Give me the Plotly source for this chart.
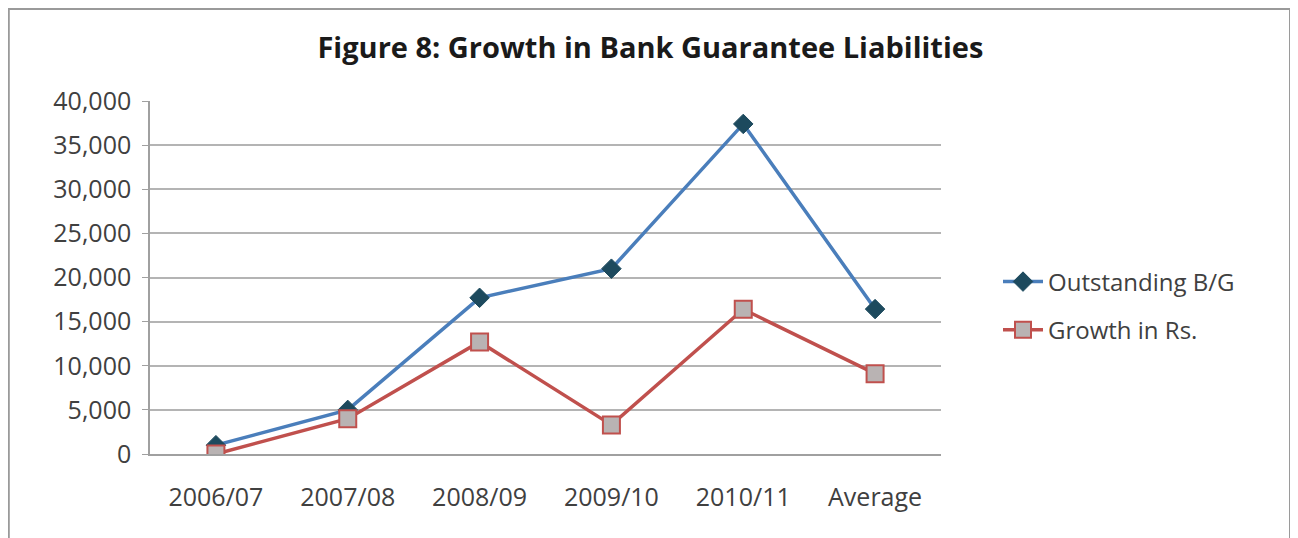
import plotly.graph_objects as go

categories = ["2006/07", "2007/08", "2008/09", "2009/10", "2010/11", "Average"]
outstanding = [1000, 5000, 17700, 21000, 37400, 16420]
growth = [0, 4000, 12700, 3300, 16400, 9100]
y_ticks = [0, 5000, 10000, 15000, 20000, 25000, 30000, 35000, 40000]
y_tick_labels = ["0", "5,000", "10,000", "15,000", "20,000", "25,000", "30,000", "35,000", "40,000"]

W, H = 1290, 530
L, R, T, B = 142, 357, 93, 84
pw, ph = W - L - R, H - T - B

fig = go.Figure()
fig.add_trace(go.Scatter(
    x=categories, y=outstanding, name="Outstanding B/G", mode="lines+markers",
    legendgroup="a",
    line=dict(color="#4a7ebb", width=3.5),
    marker=dict(symbol="diamond", size=15, color="#1d4a5e", line=dict(color="#1d4a5e", width=1)),
))
fig.add_trace(go.Scatter(
    x=categories, y=growth, name="Growth in Rs.", mode="lines+markers",
    legendgroup="b",
    line=dict(color="#c0504d", width=3.5),
    marker=dict(symbol="square", size=17, color="#b9b3b3", line=dict(color="#c0504d", width=2)),
))

fig.update_layout(
    width=W, height=H,
    paper_bgcolor="white", plot_bgcolor="white",
    margin=dict(l=L, r=R, t=T, b=B),
    title=dict(text="<b>Figure 8: Growth in Bank Guarantee Liabilities</b>",
               x=0.498, xanchor="center", xref="container", y=0.925, yanchor="middle",
               font=dict(family="Open Sans", size=29, color="#1a1a1a")),
    font=dict(family="Open Sans", size=25, color="#404040"),
    showlegend=True,
    legend=dict(x=(990 - L) / pw, y=(H - B - 298) / ph, xanchor="left", yanchor="middle",
                font=dict(family="Open Sans", size=24, color="#404040"),
                tracegroupgap=14, itemwidth=40, bgcolor="rgba(0,0,0,0)"),
    xaxis=dict(type="category", range=[-0.5, 5.5], showgrid=False, showline=True,
               linecolor="#a0a0a0", linewidth=1.5,
               ticks="", tickfont=dict(size=25, color="#404040"), ticklabelstandoff=20),
    yaxis=dict(range=[0, 40000], tickvals=y_ticks, ticktext=y_tick_labels,
               showgrid=True, gridcolor="#b4b4b4", gridwidth=1.5,
               showline=True, linecolor="#a0a0a0", linewidth=1.5, ticks="outside", ticklen=6,
               tickcolor="#a0a0a0", tickfont=dict(size=25, color="#404040"), zeroline=False,
               ticklabelstandoff=6),
    shapes=[dict(type="rect", xref="paper", yref="paper",
                 x0=-L / pw + 0.001, x1=(1282 - L) / pw, y0=-0.4, y1=1 + (T - 1) / ph,
                 line=dict(color="#9a9a9a", width=2), fillcolor="rgba(0,0,0,0)")],
)

fig.write_html("out.html")
